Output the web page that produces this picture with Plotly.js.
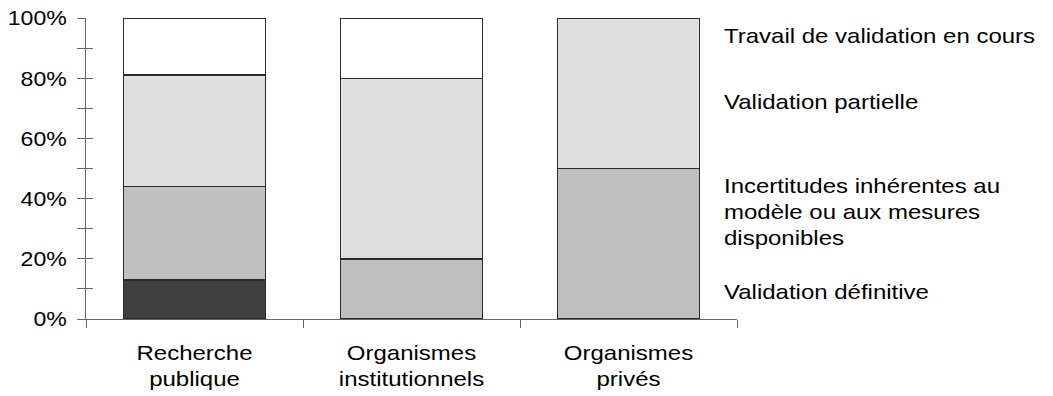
<!DOCTYPE html>
<html>
<head>
<meta charset="utf-8">
<script src="https://cdn.plot.ly/plotly-3.0.1.min.js"></script>
<style>html,body{margin:0;padding:0;background:#fff;}#chart{width:1053px;height:396px;}</style>
</head>
<body>
<div id="chart"></div>
<script>
const categories = ["Recherche<br>publique", "Organismes<br>institutionnels", "Organismes<br>privés"];
const seriesNames = ["Validation définitive", "Incertitudes inhérentes au<br>modèle ou aux mesures<br>disponibles", "Validation partielle", "Travail de validation en cours"];
const validationDefinitive = [13, 0, 0];
const incertitudes = [31, 20, 50];
const validationPartielle = [37, 60, 50];
const travailEnCours = [19, 20, 0];
const seriesColors = ["#404040", "#c0c0c0", "#dfdfdf", "#ffffff"];
const yTickVals = [0, 20, 40, 60, 80, 100];

const FONT = "Liberation Sans, Arial, Helvetica, sans-serif";
const seriesValues = [validationDefinitive, incertitudes, validationPartielle, travailEnCours];

const traces = seriesValues.map((vals, i) => ({
  type: "bar",
  name: seriesNames[i],
  x: categories,
  y: vals,
  marker: {color: seriesColors[i], line: {color: "#2a2a2a", width: 1.4}},
  hoverinfo: "skip"
}));
// invisible helper trace so the second tick-only y axis is drawn (ticks crossing the axis line)
traces.push({type: "scatter", mode: "markers", x: categories, y: travailEnCours, yaxis: "y2",
  marker: {opacity: 0, size: 1}, hoverinfo: "skip", showlegend: false});

const labelY = [9, 35.5, 72, 94];
const annotations = seriesNames.map((n, i) => ({
  xref: "paper", yref: "y",
  x: 0.977, y: labelY[i],
  xanchor: "left", yanchor: "middle", align: "left",
  text: n, showarrow: false,
  font: {family: FONT, size: 20, color: "#000"}
}));

const AX = "#666";
const layout = {
  width: 1053, height: 396,
  margin: {l: 86, r: 316, t: 18, b: 77},
  paper_bgcolor: "#fff", plot_bgcolor: "rgba(0,0,0,0)",
  barmode: "stack",
  bargap: 0.345,
  showlegend: false,
  font: {family: FONT, size: 20, color: "#000"},
  xaxis: {
    type: "category",
    range: [-0.5, 2.5],
    tickson: "boundaries",
    ticks: "outside", ticklen: 8, tickcolor: AX, tickwidth: 1,
    showline: true, linecolor: AX, linewidth: 1,
    showgrid: false, zeroline: false,
    ticklabelstandoff: 16,
    tickfont: {family: FONT, size: 20, color: "#000"}
  },
  yaxis: {
    domain: [0, 1],
    range: [0, 100],
    tickvals: yTickVals,
    ticktext: yTickVals.map(v => v + "%"),
    ticks: "outside", ticklen: 8, tickcolor: AX, tickwidth: 1,
    minor: {dtick: 10, ticks: "outside", ticklen: 8, tickcolor: AX, tickwidth: 1, showgrid: false},
    showline: true, linecolor: AX, linewidth: 1,
    showgrid: false, zeroline: false,
    ticklabelstandoff: 6,
    tickfont: {family: FONT, size: 21, color: "#000"}
  },
  yaxis2: {
    domain: [0, 1],
    type: "linear",
    anchor: "x", side: "left",
    range: [0, 100], tickmode: "linear", tick0: 0, dtick: 10,
    ticks: "inside", ticklen: 7, tickcolor: AX, tickwidth: 1,
    showticklabels: false, showline: false,
    showgrid: false, zeroline: false
  },
  annotations: annotations
};

function stretchTexts(gd) {
  gd.querySelectorAll("svg text").forEach(t => {
    let bb;
    try { bb = t.getBBox(); } catch (e) { return; }
    if (!bb || !bb.width) return;
    const anchor = t.getAttribute("text-anchor") || "start";
    const ax = anchor === "middle" ? bb.x + bb.width / 2 : (anchor === "end" ? bb.x + bb.width : bb.x);
    const s = t.closest(".ytick") ? 1.1 : 1.2;
    const prev = t.getAttribute("transform") || "";
    t.setAttribute("transform", prev + " translate(" + ax + ",0) scale(" + s + ",1) translate(" + (-ax) + ",0)");
  });
}

Plotly.newPlot("chart", traces, layout, {displayModeBar: false, staticPlot: true})
  .then(gd => stretchTexts(gd));
</script>
</body>
</html>
